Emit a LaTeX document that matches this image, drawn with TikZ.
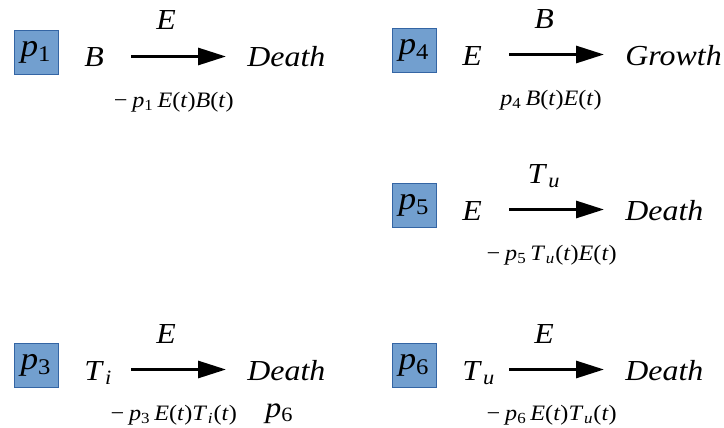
\documentclass[tikz,border=0pt]{standalone}
\usepackage{fontspec}
\setmainfont[FakeStretch=1.1]{Liberation Serif}
\usetikzlibrary{arrows.meta}
\definecolor{boxblue}{RGB}{114,159,207}
\definecolor{boxedge}{RGB}{52,101,164}
\newcommand{\nidx}[1]{\textsubscript{\upshape#1}}
\newcommand{\tpar}[1]{\textup{(}#1\textup{)}}

\begin{document}
\begin{tikzpicture}[x=0.5pt, y=-0.5pt,
  rate/.style={draw=boxedge, fill=boxblue, minimum size=22pt, inner sep=0pt,
    font=\fontsize{16}{18}\selectfont\itshape},
  spec/.style={anchor=base west, inner sep=0pt, font=\fontsize{14.5}{16}\selectfont\itshape},
  over/.style={anchor=base, inner sep=0pt, font=\fontsize{14.5}{16}\selectfont\itshape},
  term/.style={anchor=base, inner sep=0pt, font=\fontsize{11}{13}\selectfont\itshape},
  flow/.style={-{Triangle[length=14pt,width=8.5pt]}, line width=1.5pt},
]
  \useasboundingbox (0,0) rectangle (724,428);
  % Reactions: box x, baseline y, index, species, over arrow, result, term.
  \foreach \bx/\yb/\i/\s/\o/\r/\t in {
      36/67/1/B/E/Death/{−\,p\nidx{1}\,E\tpar{t}B\tpar{t}},
      414/65/4/E/B/Growth/{p\nidx{4}\,B\tpar{t}E\tpar{t}},
      414/220/5/E/{T\kern1.5pt\textsubscript{u}}/Death/{−\,p\nidx{5}\,T\kern1pt\textsubscript{u}\tpar{t}E\tpar{t}},
      36/380/3/{T\kern1.5pt\textsubscript{i}}/E/Death/{−\,p\nidx{3}\,E\tpar{t}T\kern1pt\textsubscript{i}\tpar{t}},
      414/380/6/{T\kern1.5pt\textsubscript{u}}/E/Death/{−\,p\nidx{6}\,E\tpar{t}T\kern1pt\textsubscript{u}\tpar{t}}} {
    \node[rate] (r\i) at (\bx,\yb-14.5) {p\nidx{\i}};
    \node[spec] (s\i) at (\bx+48,\yb) {\s};
    \coordinate (a\i) at (\bx+95,\yb-10.5);
    \coordinate (b\i) at (\bx+190,\yb-10.5);
    \draw[flow] (a\i) -- (b\i);
    \node[over] (o\i) at (\bx+130,\yb-37) {\o};
    \node[spec] (d\i) at (\bx+211,\yb) {\r};
    \node[term] (t\i) at (\bx+137,\yb+40) {\t};
  }

  % Loose rate label under the p3 reaction
  \node[spec] (x6) at (265,417) {p\nidx{6}};
\end{tikzpicture}
\end{document}
